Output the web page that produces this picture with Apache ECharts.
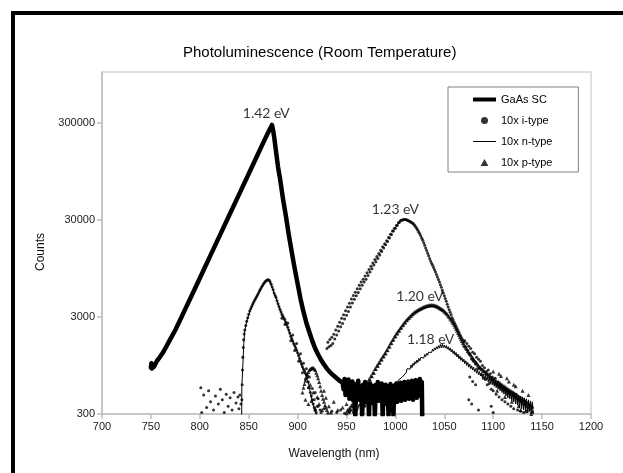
<!DOCTYPE html>
<html><head><meta charset="utf-8">
<script src="https://cdn.jsdelivr.net/npm/echarts@6/dist/echarts.min.js"></script>
<style>html,body{margin:0;padding:0;background:#fff}#c{width:623px;height:473px}</style>
</head><body><div id="c"></div>
<script>
// ---------- DATA (wavelength nm, counts) ----------
const xTicks = [700, 750, 800, 850, 900, 950, 1000, 1050, 1100, 1150, 1200];
const yTicks = [300, 3000, 30000, 300000];

const gaasSC = [
[750,900],[750.5,1000],[751,880],[752,960],[753,913],[756,1050],[759,1150],[762,1273],[766,1500],[770,1780],[775,2200],[780,2800],[785,3590],[790,4590],[797,6480],[805,9640],[812,13630],[820,20280],[830,33270],[841,57200],[851,93900],[859,139700],[866,197500],[870,240000],[873.8,285000],[875,250000],[876,215000],[878,150000],[880,105000],[882,80000],[885,50000],[888,33000],[891,21000],[894,14000],[897,9500],[900,6600],[903,4600],[906,3400],[909,2600],[912,2100],[915,1700],[918,1420],[921,1230],[924,1080],[927,970],[930,880],[933,810],[936,760],[940,700],[943,660],
[946,630],[947,540],[948,690],[949,470],[950,620],[951,520],[952,680],[953,430],[954,600],[955,500],[956,650],[957,410],[958,590],[959,290],[960,610],[961,470],[962,660],[963,420],[964,580],[965,520],[966,290],[967,600],[968,450],[969,640],[970,400],[971,570],[972,510],[973,290],[974,620],[975,440],[976,590],[977,390],[978,560],[979,290],[980,600],[981,460],[982,640],[983,410],[984,570],[985,490],[986,620],[987,290],[988,550],[989,430],[990,600],[991,380],[992,580],[993,290],[994,520],[995,610],[996,420],[997,560],[998,290],[999,590],[1000,450],[1001,620],[1002,400],[1003,570],[1004,480],[1005,630],[1006,410],[1007,590],[1008,460],[1009,640],[1010,420],[1011,580],[1012,500],[1013,650],[1014,430],[1015,600],[1016,470],[1017,660],[1018,420],[1019,610],[1020,490],[1021,670],[1022,440],[1023,620],[1024,520],[1025,690],[1026,460],[1027,640],[1027.5,250]
];

const iType = [
[801,560],[802,310],[804,470],[807,350],[809,520],[811,400],[814,330],[816,460],[819,380],[821,540],[823,420],[825,310],[827,480],[829,360],[831,440],[833,330],[835,500],[837,390],[839,450],[840,340],[841,470],[842,380],
[843,420],[843.3,600],[843.6,850],[844,1150],[844.4,1450],[844.8,1750],[845.3,2000],[846,2200],[847,2450],[848,2700],[849,2950],[850,3200],[851,3450],[852,3650],[853,3850],[854,4050],[855,4250],[856,4450],[857,4650],[858,4850],[859,5050],[860,5300],[861,5550],[862,5800],[863,6050],[864,6300],[865,6550],[866,6750],[867,6950],[868,7100],[869,7200],[870,7250],[871,7150],[872,6850],[873,6500],[874,6100],[875,5700],[876,5300],[877,5000],[878,4750],[879,4400],[880,4100],[881,3850],[882,3600],[883,3400],[884,3200],[885,3050],[886,2900],[887,2800],[888,2650],[889,2500],[890,2350],[891,2200],[892,2050],[893,1900],[894,1800],[895,1700],[896,1600],[897,1520],[898,1440],[899,1370],[900,1280],[901,1200],[902,1120],[903,1050],[904,980],[905,920],[906,870],[907,830],[908,790],[909,760],[910,720],[911,640],[912,560],[913,500],[914,460],[915,420],[916,380],[917,350],[918,330],[919,310],
[884,2900],[887,2500],[890,2600],[893,1700],[895,1950],[897,1350],[899,1600],[901,1050],[903,1250],[905,800],[906,1000],[908,680],[909,880],[911,560],[912,720],[914,400],[915,550],[917,420],[918,500],[920,360],[921,430],[923,330],
[918,330],[921,360],[924,310],[927,340],[931,305],[935,320],[940,310],[944,330],[948,305],
[930,1420],[931,1650],[932,1480],[933,1760],[934,1520],[935,1850],[936,1600],[937,1990],[938,1780],[939,2200],[940,1950],[941,2400],[942,2150],[943,2650],[944,2380],[945,2900],[946,2560],[947,3150],[948,2850],[949,3480],[950,3120],[951,3800],[952,3420],[953,4150],[954,3800],[955,4600],[956,4180],[957,5000],[958,4550],[959,5400],[960,4950],[961,5850],[962,5350],[963,6350],[964,5850],[965,6850],[966,6350],[967,7350],[968,6850],[969,7900],[970,7350],[971,8550],[972,8000],[973,9250],[974,8700],[975,10000],[976,9400],[977,10800],[978,10250],[979,11700],[980,11100],[981,12600],[982,12000],[983,13500],[984,13000],[985,14600],[986,14200],[987,15800],[988,15400],[989,17000],[990,16600],[991,18300],[992,18000],[993,19700],[994,19500],[995,21300],[996,21200],[997,23000],[998,23000],[999,24600],[1000,24600],[1001,26300],[1002,26400],[1003,28000],[1004,28100],[1005,29300],
[1006,29700],[1007,29950],[1008,30100],[1009,30200],[1010,30200],[1011,30100],[1012,29900],[1013,29600],[1014,29200],[1015,28800],[1016,28400],[1017,28000],[1018,27500],[1019,26800],[1020,26000],[1021,25200],[1022,24300],[1023,23400],[1024,22400],[1025,21400],[1026,20400],[1027,19400],[1028,18500],[1029,17400],[1030,16400],[1031,15400],[1032,14500],[1033,13600],[1034,12800],[1035,12000],[1036,11300],[1037,10700],[1038,10200],[1039,9700],[1040,9200],[1041,8700],[1042,8200],[1043,7750],[1044,7300],[1045,6850],[1046,6450],[1047,6050],[1048,5650],[1049,5300],[1050,4950],[1051,4650],[1052,4350],[1053,4050],[1054,3800],[1055,3550],[1056,3350],[1057,3150],[1058,2950],[1059,2800],[1060,2650],[1061,2520],[1062,2400],[1063,2280],[1064,2170],[1065,2070],[1066,1970],[1067,1880],[1068,1800],[1069,1720],[1070,1650],
[1071,1700],[1072,1480],[1073,1600],[1074,1350],[1075,1500],[1076,1250],[1077,1420],[1078,1100],[1079,1300],[1080,1050],[1081,1250],[1082,980],[1083,1150],[1084,880],[1085,1100],[1086,900],[1087,1050],[1088,760],[1089,950],[1090,700],[1091,900],[1092,680],[1093,820],[1094,600],[1095,850],[1096,620],[1097,780],[1098,540],[1099,720],[1100,520],[1102,700],[1103,480],[1105,640],[1106,450],[1108,600],[1109,420],[1111,560],[1112,400],[1114,530],[1115,380],[1117,500],[1118,360],[1120,480],[1121,340],[1123,450],[1125,330],[1126,420],[1128,320],[1130,410],[1131,310],[1133,390],[1135,320],[1137,370],[1139,310],[1140,350],
[1076,720],[1079,650],[1082,600],[1075,420],[1078,380],[1085,330],[1098,360],[1100,310]
];

const nType = [
[842.8,250],[843,580],[844,950],[845,1600],[846,2150],[848,2700],[850,3150],[852,3600],[855,4200],[858,4800],[861,5500],[864,6250],[867,6900],[869,7150],[870,7200],[872,6800],[874,6050],[876,5250],[878,4700],[880,4050],[882,3550],[884,3150],[886,2850],[888,2600],[890,2300],[893,1880],[896,1580],[899,1360],[902,1110],[905,900],[908,780],[911,630],[913,500],[915,410],[917,340],[919,300],[921,270],[925,260],[935,265],[945,275],[952,290],
[955,330],[957,300],[959,360],[961,320],[963,380],[965,340],[967,400],[969,350],[971,420],[973,370],[975,440],[977,390],[979,450],[981,410],[983,480],[985,430],[987,510],[989,470],[991,540],[993,500],[995,580],[997,540],[999,620],[1001,590],[1003,670],[1005,640],[1007,720],[1009,700],[1011,800],[1012,880],[1013,840],[1014,920],[1015,870],[1016,960],[1017,900],[1018,1000],[1019,950],[1020,1040],[1021,990],[1022,1080],[1023,1020],[1024,1120],[1025,1060],[1026,1150],[1027,1100],[1028,1190],[1029,1130],[1030,1230],[1031,1170],[1032,1270],[1033,1210],[1034,1300],[1035,1250],[1036,1350],[1037,1290],[1038,1400],[1039,1330],[1040,1440],[1041,1370],[1042,1480],[1043,1400],[1044,1520],[1045,1430],[1046,1560],[1047,1440],[1048,1570],[1049,1450],[1050,1540],[1051,1440],[1052,1520],[1053,1400],[1054,1480],[1055,1360],[1056,1440],[1057,1310],[1058,1390],[1059,1260],[1060,1340],[1061,1210],[1062,1290],[1063,1160],[1064,1240],[1065,1110],[1066,1190],[1067,1070],[1068,1140],[1069,1030],[1070,1100],[1071,990],[1072,1060],[1073,950],[1074,1020],[1075,910],[1076,980],[1077,880],[1078,940],[1079,850],[1080,910],[1081,820],[1082,880],[1083,790],[1084,850],[1085,760],[1086,820],[1087,740],[1088,800],[1089,710],[1090,770],[1091,690],[1092,750],[1093,670],[1094,730],[1095,640],[1096,710],[1097,620],[1098,690],[1099,600],[1100,670],[1101,580],[1102,650],[1103,560],[1104,630],[1105,540],[1106,610],[1107,520],[1108,600],[1109,500],[1110,580],[1111,480],[1112,570],[1113,460],[1114,550],[1115,440],[1116,540],[1117,430],[1118,520],[1119,410],[1120,510],[1121,400],[1122,500],[1123,380],[1124,490],[1125,370],[1126,470],[1127,350],[1128,460],[1129,340],[1130,450],[1131,330],[1132,440],[1133,320],[1134,430],[1135,310],[1136,420],[1137,320],[1138,410],[1139,330],[1140,400],[1141,300]
];

const pType = [
[905,500],[906,560],[907,610],[908,660],[909,720],[910,770],[911,810],[912,850],[913,870],[914,890],[915,900],[916,895],[917,880],[918,850],[919,800],[920,750],[921,700],[922,640],[923,580],[924,520],[925,470],[926,430],[927,400],[928,370],[929,350],[930,330],
[908,420],[911,380],[913,600],[916,500],[918,340],[920,450],[922,380],[925,330],[927,520],[929,440],[932,360],[934,310],[937,400],[941,330],[946,350],[950,380],[953,320],[957,340],
[950,305],[951,330],[952,320],[953,345],[954,340],[955,370],[956,360],[957,390],[958,385],[959,415],[960,410],[961,440],[962,440],[963,475],[964,470],[965,510],[966,505],[967,550],[968,545],[969,590],[970,585],[971,635],[972,630],[973,685],[974,680],[975,740],[976,735],[977,800],[978,800],[979,870],[980,870],[981,940],[982,940],[983,1010],[984,1010],[985,1090],[986,1090],[987,1170],[988,1180],[989,1260],[990,1270],[991,1360],[992,1370],[993,1480],[994,1490],[995,1610],[996,1620],[997,1740],[998,1760],[999,1880],[1000,1900],[1001,2020],[1002,2040],[1003,2160],[1004,2180],[1005,2310],[1006,2330],[1007,2460],[1008,2490],[1009,2620],[1010,2650],[1011,2770],[1012,2800],[1013,2910],[1014,2950],[1015,3050],[1016,3090],[1017,3190],[1018,3230],[1019,3330],[1020,3360],[1021,3440],[1022,3470],[1023,3540],[1024,3570],[1025,3630],[1026,3660],[1027,3710],[1028,3740],[1029,3790],[1030,3820],[1031,3860],[1032,3880],[1033,3920],[1034,3930],[1035,3950],[1036,3960],[1037,3970],[1038,3960],[1039,3960],[1040,3940],[1041,3910],[1042,3870],[1043,3830],[1044,3780],[1045,3730],[1046,3670],[1047,3620],[1048,3560],[1049,3510],[1050,3440],[1051,3360],[1052,3270],[1053,3190],[1054,3090],[1055,3000],[1056,2890],[1057,2800],[1058,2690],[1059,2600],[1060,2490],[1061,2380],[1062,2270],[1063,2160],[1064,2050],[1065,1960],[1066,1860],[1067,1780],[1068,1690],[1069,1620],[1070,1540],[1071,1500],[1072,1440],[1073,1400],[1074,1340],[1075,1300],[1076,1250],[1077,1220],[1078,1170],[1079,1140],[1080,1090],[1081,1070],[1082,1030],[1083,1010],[1084,970],[1085,950],[1086,910],[1087,900],[1088,870],[1089,860],[1090,830],[1091,825],[1092,800],[1093,795],[1094,770],[1095,765],[1096,735],[1097,730],[1098,700],[1099,705],[1100,680],[1101,690],[1102,650],[1103,660],[1104,625],[1105,640],[1106,605],[1107,625],[1108,585],[1109,600],[1110,565],[1111,585],[1112,545],[1113,565],[1114,525],[1115,545],[1116,505],[1117,530],[1118,490],[1119,515],[1120,475],[1121,500],[1122,455],[1123,480],[1124,440],[1125,465],[1126,425],[1127,450],[1128,410],[1129,435],[1130,395],[1131,420],[1132,380],[1133,405],[1134,365],[1135,390],[1136,350],[1137,375],[1138,335],[1139,360],[1140,320],
[1100,820],[1104,520],[1108,740],[1112,450],[1116,650],[1119,400],[1123,580],[1126,360],[1130,520],[1133,320],[1136,470],[1139,300],[1114,700],[1121,600],[1128,330],[1106,780]
];

const peakLabelText = ['1.42 eV', '1.23 eV', '1.20 eV', '1.18 eV'];
const peakLabelWavelength = [868, 1000, 1025, 1036];
const peakLabelCounts = [372000, 38300, 4830, 1760];

// ---------- CHART ----------
const chart = echarts.init(document.getElementById('c'), null, {renderer: 'canvas'});
const axisGray = '#bfbfbf';
const fontSans = 'Liberation Sans, Arial, sans-serif';

chart.setOption({
  animation: false,
  backgroundColor: '#ffffff',
  title: {
    text: 'Photoluminescence (Room Temperature)',
    left: 178, top: 40,
    textStyle: {fontFamily: fontSans, fontSize: 15, fontWeight: 'normal', color: '#000'}
  },
  graphic: [{
    type: 'rect', silent: true, z: -1,
    shape: {x: 13, y: 13, width: 700, height: 600},
    style: {fill: 'none', stroke: '#000', lineWidth: 4}
  }],
  legend: {
    orient: 'vertical', left: 448, top: 87,
    padding: [6, 26, 3, 25],
    itemGap: 8, itemWidth: 23, itemHeight: 7,
    symbolKeepAspect: true,
    borderColor: '#808080', borderWidth: 1, backgroundColor: '#fff',
    selectedMode: false,
    textStyle: {fontFamily: fontSans, fontSize: 11, color: '#000', lineHeight: 13},
    data: [
      {name: 'GaAs SC', icon: 'path://M0,0H23V4H0Z'},
      {name: '10x i-type', icon: 'circle'},
      {name: '10x n-type', icon: 'path://M0,0H23V1H0Z'},
      {name: '10x p-type', icon: 'path://M5,0L10,9L0,9Z'}
    ]
  },
  grid: {left: 102, right: 32, top: 72, bottom: 59, show: true, borderColor: '#d6d6d6', borderWidth: 1.5},
  xAxis: {
    type: 'value', min: 700, max: 1200, interval: 50,
    name: 'Wavelength (nm)', nameLocation: 'middle', nameGap: 34,
    nameTextStyle: {fontFamily: fontSans, fontSize: 12, color: '#111', padding: [0, 25, 0, 0]},
    axisLine: {show: true, lineStyle: {color: axisGray, width: 1.5}},
    axisTick: {show: true, length: 5, lineStyle: {color: axisGray, width: 1.5}},
    axisLabel: {fontFamily: fontSans, fontSize: 11, color: '#222', margin: 7, formatter: v => String(v)},
    splitLine: {show: false}
  },
  yAxis: {
    type: 'log', logBase: 10, min: 300, max: 1000000,
    name: 'Counts', nameLocation: 'middle', nameGap: 55,
    nameTextStyle: {fontFamily: fontSans, fontSize: 12, color: '#111', padding: [0, 18, 0, 0]},
    axisLine: {show: true, lineStyle: {color: axisGray, width: 1.5}},
    axisTick: {show: true, length: 5, customValues: yTicks, lineStyle: {color: axisGray, width: 1.5}},
    axisLabel: {customValues: yTicks, fontFamily: fontSans, fontSize: 11, color: '#222', margin: 7,
      formatter: v => String(Math.round(v))},
    splitLine: {show: false},
    minorTick: {show: false}
  },
  series: [
    {name: '10x i-type', type: 'scatter', data: iType, symbol: 'circle', symbolSize: 3,
      itemStyle: {color: '#000'}, color: '#000', z: 3},
    {name: '10x p-type', type: 'scatter', data: pType, symbol: 'triangle', symbolSize: 4,
      itemStyle: {color: '#000'}, color: '#000', z: 3},
    {name: '10x n-type', type: 'line', data: nType, showSymbol: false, symbol: 'none',
      lineStyle: {color: '#000', width: 1}, itemStyle: {color: '#000'}, color: '#000', z: 4},
    {name: 'GaAs SC', type: 'line', data: gaasSC, showSymbol: false, symbol: 'none',
      lineStyle: {color: '#000', width: 4.5, join: 'round', cap: 'round'}, itemStyle: {color: '#000'}, color: '#000', z: 5},
    {name: 'peaks', type: 'scatter', symbolSize: 0, silent: true, z: 10,
      data: peakLabelText.map((t, i) => ({value: [peakLabelWavelength[i], peakLabelCounts[i]], label: {formatter: t}})),
      label: {show: true, position: 'inside', fontFamily: 'Lato, Open Sans, sans-serif', fontSize: 14, color: '#000'}}
  ]
});
</script></body></html>
